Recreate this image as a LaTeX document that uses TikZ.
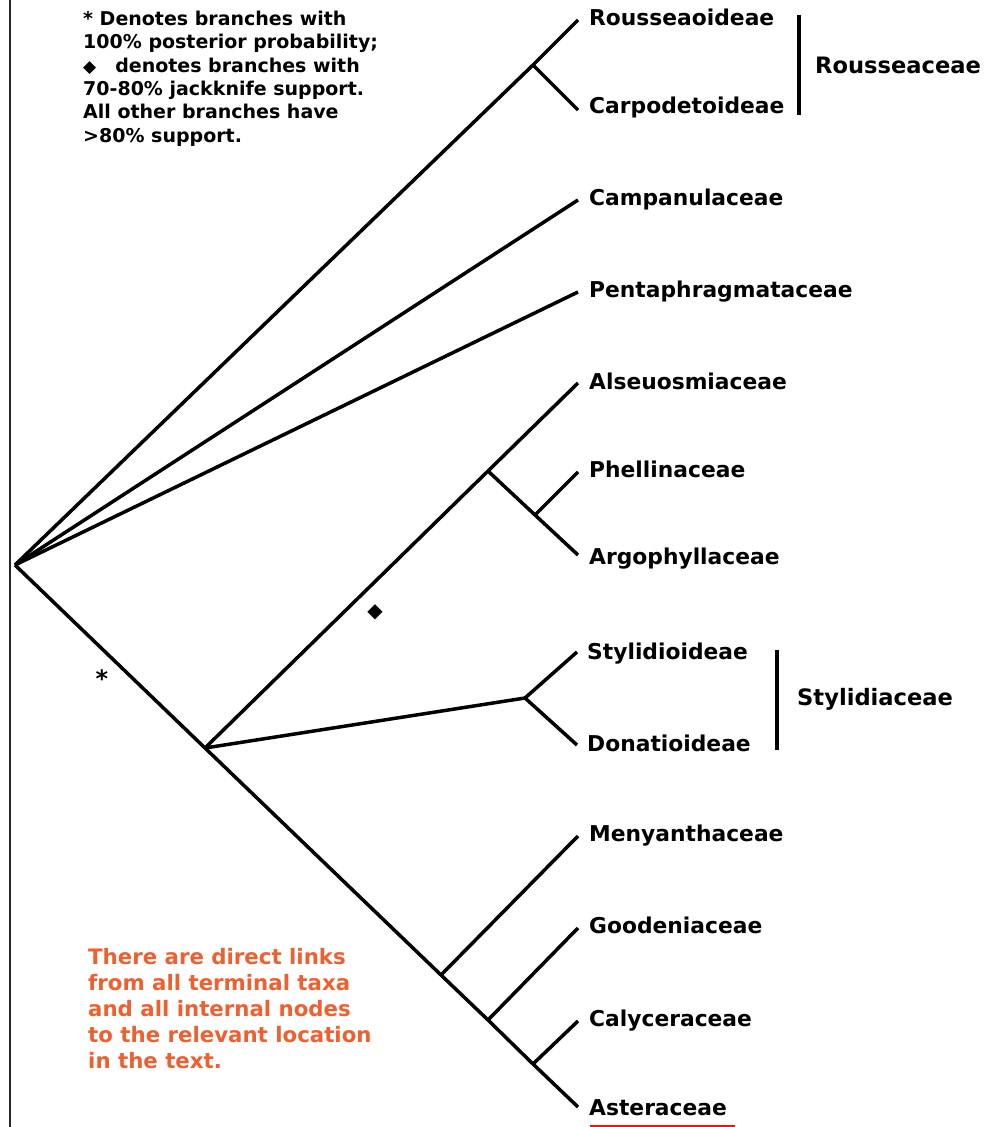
\documentclass[tikz,border=0pt]{standalone}
\usepackage{fontspec}
\setmainfont{DejaVu Sans}
\newfontfamily\symfont{DejaVu Sans}
\definecolor{notecol}{RGB}{238,96,48}
\definecolor{ulred}{RGB}{235,20,20}
\begin{document}
\begin{tikzpicture}[x=1pt,y=-1pt,
  branch/.style={line width=3.5pt},
  taxon/.style={anchor=base west, inner sep=0pt, font=\fontsize{21.8}{24}\selectfont\bfseries},
  family/.style={anchor=base west, inner sep=0pt, font=\fontsize{22.6}{24}\selectfont\bfseries},
  bracket/.style={line width=3.5pt},
  legend/.style={anchor=north west, inner sep=0pt, align=left, font=\fontsize{19}{23.3}\selectfont\bfseries},
  note/.style={anchor=north west, inner sep=0pt, align=left, text=notecol, font=\fontsize{21.3}{26}\selectfont\bfseries},
  supportmark/.style={inner sep=0pt}
]
\useasboundingbox (0,0) rectangle (994,1127);
\fill[white] (0,0) rectangle (994,1127);
% left frame line
\coordinate (ft) at (9.5,0);
\coordinate (fb) at (9.5,1127);
\draw[line width=2pt, black!85] (ft) -- (fb);

% tips
\coordinate (rou) at (578,20);
\coordinate (car) at (578,110);
\coordinate (cam) at (578,200);
\coordinate (pen) at (578,292);
\coordinate (als) at (578,383);
\coordinate (phe) at (578,472);
\coordinate (arg) at (578,555);
\coordinate (sty) at (577,652);
\coordinate (don) at (577,745);
\coordinate (men) at (578,836);
\coordinate (goo) at (578,928);
\coordinate (cal) at (578,1021);
\coordinate (ast) at (578,1107);

% internal nodes
\coordinate (root) at (15,565);
\coordinate (nR) at (533,65);
\coordinate (nA) at (205,748);
\coordinate (nB) at (488,471);
\coordinate (nC) at (535,515);
\coordinate (nS) at (525,698);
\coordinate (nM) at (441,975);
\coordinate (nG) at (488,1020);
\coordinate (nK) at (533,1064);

% branches
\draw[branch] (root) -- (nR) -- (rou);
\draw[branch] (nR) -- (car);
\draw[branch] (root) -- (cam);
\draw[branch] (root) -- (pen);
\draw[branch] (root) -- (nA) -- (nM) -- (nG) -- (nK) -- (ast);
\draw[branch] (nA) -- (nB) -- (als);
\draw[branch] (nB) -- (nC) -- (arg);
\draw[branch] (nC) -- (phe);
\draw[branch] (nA) -- (nS);
\draw[branch] (nS) -- (sty);
\draw[branch] (nS) -- (don);
\draw[branch] (nM) -- (men);
\draw[branch] (nG) -- (goo);
\draw[branch] (nK) -- (cal);

% labels
\node[taxon] (Lrou) at (589,25) {Rousseaoideae};
\node[taxon] (Lcar) at (589,113) {Carpodetoideae};
\node[taxon] (Lcam) at (589,205) {Campanulaceae};
\node[taxon] (Lpen) at (589,297) {Pentaphragmataceae};
\node[taxon] (Lals) at (589,389) {Alseuosmiaceae};
\node[taxon] (Lphe) at (589,477) {Phellinaceae};
\node[taxon] (Larg) at (589,564) {Argophyllaceae};
\node[taxon] (Lsty) at (587,659) {Stylidioideae};
\node[taxon] (Ldon) at (587,751) {Donatioideae};
\node[taxon] (Lmen) at (589,841) {Menyanthaceae};
\node[taxon] (Lgoo) at (589,933) {Goodeniaceae};
\node[taxon] (Lcal) at (589,1026) {Calyceraceae};
\node[taxon] (Last) at (589,1115) {Asteraceae};
\coordinate (ul1) at (590,1125.5);
\coordinate (ul2) at (735,1125.5);
\draw[draw=ulred, line width=2pt] (ul1) -- (ul2);

% family brackets
\coordinate (bRt) at (799,15);
\coordinate (bRb) at (799,115);
\draw[bracket] (bRt) -- (bRb);
\node[family] (Frou) at (815,73) {Rousseaceae};
\coordinate (bSt) at (777,650);
\coordinate (bSb) at (777,750);
\draw[bracket] (bSt) -- (bSb);
\node[family] (Fsty) at (797,705) {Stylidiaceae};

% support marks
\node[supportmark, font=\symfont\bfseries\fontsize{24}{24}\selectfont] (ast1) at (102,679) {*};
\node[supportmark, font=\symfont\fontsize{20}{20}\selectfont] (dia1) at (375,612) {◆};

% legend
\node[legend] (leg) at (83,11) {{\symfont *} Denotes branches with\\100\% posterior probability;\\{\symfont\fontsize{17}{17}\selectfont ◆}\hspace{1em}denotes branches with\\70-80\% jackknife support.\\All other branches have\\>80\% support.};

% note
\node[note] (nt) at (88,948) {There are direct links\\from all terminal taxa\\and all internal nodes\\to the relevant location\\in the text.};
\end{tikzpicture}
\end{document}
